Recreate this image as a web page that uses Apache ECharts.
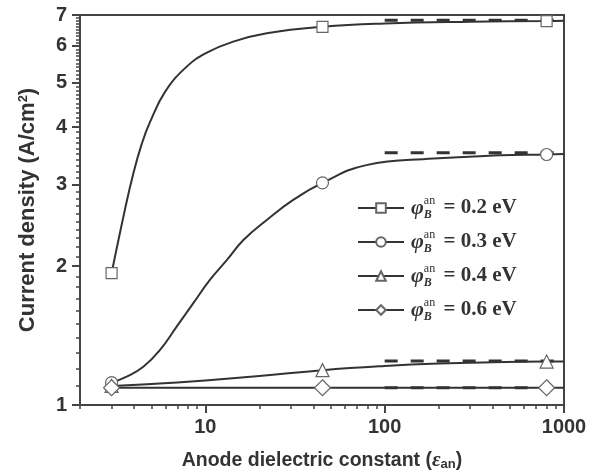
<!DOCTYPE html>
<html>
<head>
<meta charset="utf-8">
<script src="https://cdn.jsdelivr.net/npm/echarts@6/dist/echarts.min.js"></script>
<style>
  html, body { margin: 0; padding: 0; background: #fff; }
  #chart { width: 599px; height: 476px; }
</style>
</head>
<body>
<div id="chart"></div>
<script>
// Current density vs. anode dielectric constant for several anode barrier heights.

// Barrier heights (legend entries)
const barrierLabels = ['0.2 eV', '0.3 eV', '0.4 eV', '0.6 eV'];

// Smooth model curves (dielectric constant, current density A/cm^2)
const eps02 = [3, 3.56, 3.97, 4.42, 4.91, 5.96, 7.87, 10.2, 14.3, 22, 45, 100, 300, 800, 1000];
const j02   = [1.93, 2.65, 3.18, 3.68, 4.10, 4.77, 5.41, 5.80, 6.13, 6.39, 6.60, 6.71, 6.77, 6.79, 6.80];

const eps03 = [3, 3.64, 4.51, 5.59, 6.92, 8.57, 10.6, 13.2, 16.3, 22, 30.9, 45, 79, 187, 440, 800, 1000];
const j03   = [1.118, 1.152, 1.21, 1.316, 1.478, 1.662, 1.866, 2.062, 2.278, 2.518, 2.782, 3.03, 3.31, 3.42, 3.475, 3.49, 3.50];

const eps04 = [3, 5, 10, 20, 45, 100, 200, 400, 800, 1000];
const j04   = [1.10, 1.11, 1.13, 1.155, 1.19, 1.215, 1.23, 1.238, 1.242, 1.243];

const eps06 = [3, 45, 800, 1000];
const j06   = [1.09, 1.09, 1.09, 1.09];

// Marked materials
const markerEps = [3, 45, 800];
const mark02 = [1.93, 6.60, 6.79];
const mark03 = [1.118, 3.03, 3.49];
const mark04 = [1.10, 1.19, 1.242];
const mark06 = [1.09, 1.09, 1.09];

// High-permittivity limits (dashed)
const limitEps = [100, 1000];
const limit02 = 6.82;
const limit03 = 3.52;
const limit04 = 1.245;
const limit06 = 1.09;

// Axis ticks
const xMajorTicks = [10, 100, 1000];
const yMajorTicks = [1, 2, 3, 4, 5, 6, 7];

// minor ticks: every unit step inside each decade on x, every 0.1 on y
const xMinorTicks = [];
[1, 10, 100].forEach(d => { for (let k = 2; k <= 9; k++) if (k * d >= 2) xMinorTicks.push(k * d); });
const yMinorTicks = [];
for (let i = 1; i < 7; i++) for (let k = 1; k <= 9; k++) yMinorTicks.push(+(i + k / 10).toFixed(1));

const pairs = (xs, ys) => xs.map((x, i) => [x, ys[i]]);

const ink = '#333';
const markBorder = '#666';
const sansBold = { fontFamily: 'Liberation Sans', fontWeight: 'bold', color: ink };

const styles = [
  { name: barrierLabels[0], eps: eps02, j: j02, m: mark02, lim: limit02, symbol: 'rect', size: 11 },
  { name: barrierLabels[1], eps: eps03, j: j03, m: mark03, lim: limit03, symbol: 'circle', size: 12 },
  { name: barrierLabels[2], eps: eps04, j: j04, m: mark04, lim: limit04, symbol: 'triangle', size: 13 },
  { name: barrierLabels[3], eps: eps06, j: j06, m: mark06, lim: limit06, symbol: 'diamond', size: 16 }
];

const series = [];
// dashed limits underneath
styles.forEach(s => {
  series.push({
    type: 'line', name: 'limit ' + s.name, silent: true,
    data: pairs(limitEps, [s.lim, s.lim]),
    showSymbol: false, symbol: 'none',
    lineStyle: { color: ink, width: 3, type: [13, 13] },
    z: 1
  });
});
// curves (these carry the legend icon)
styles.forEach(s => {
  series.push({
    type: 'line', name: s.name,
    data: pairs(s.eps, s.j),
    smooth: 0.45,
    showSymbol: false, symbol: s.symbol,
    lineStyle: { color: ink, width: 2 },
    itemStyle: { color: '#fff', borderColor: markBorder, borderWidth: 1.2 },
    z: 2
  });
});
// markers
styles.forEach(s => {
  series.push({
    type: 'scatter', name: s.name,
    data: pairs(markerEps, s.m),
    symbol: s.symbol, symbolSize: s.size,
    itemStyle: { color: '#fff', borderColor: markBorder, borderWidth: 1.2, opacity: 1 },
    z: 3
  });
});

const chart = echarts.init(document.getElementById('chart'), null, { renderer: 'canvas' });

const xBase = { type: 'log', logBase: 10, min: 2, max: 1000, gridIndex: 0, splitLine: { show: false } };
const yBase = { type: 'log', logBase: 10, min: 1, max: 7, gridIndex: 0, splitLine: { show: false } };
const plain = v => String(v);

chart.setOption({
  animation: false,
  backgroundColor: '#fff',
  grid: { left: 80, right: 35, top: 15, bottom: 71, show: true, borderColor: '#444', borderWidth: 2, backgroundColor: 'transparent' },
  xAxis: [
    Object.assign({}, xBase, {
      position: 'bottom',
      axisLine: { show: true, lineStyle: { color: '#444', width: 2 } },
      axisTick: { show: true, inside: false, length: 8, customValues: xMajorTicks, lineStyle: { color: '#444', width: 2 } },
      axisLabel: Object.assign({ customValues: xMajorTicks, formatter: plain, fontSize: 20, margin: 12 }, sansBold),
      name: 'Anode dielectric constant ({eps|ε}{sub|an})',
      nameLocation: 'middle', nameGap: 45,
      nameTextStyle: Object.assign({ fontSize: 19.5,
        rich: {
          eps: { fontFamily: 'Liberation Serif', fontStyle: 'italic', fontSize: 21, color: ink, verticalAlign: 'middle' },
          sub: { fontFamily: 'Liberation Sans', fontWeight: 'bold', fontSize: 13, color: ink, verticalAlign: 'bottom', lineHeight: 13 }
        } }, sansBold)
    }),
    Object.assign({}, xBase, {
      position: 'bottom',
      axisLine: { show: false },
      axisTick: { show: true, inside: false, length: 4, customValues: xMinorTicks, lineStyle: { color: '#444', width: 1.5 } },
      axisLabel: { show: false }
    })
  ],
  yAxis: [
    Object.assign({}, yBase, {
      position: 'left',
      axisLine: { show: true, lineStyle: { color: '#444', width: 2 } },
      axisTick: { show: true, inside: false, length: 8, customValues: yMajorTicks, lineStyle: { color: '#444', width: 2 } },
      axisLabel: Object.assign({ customValues: yMajorTicks, formatter: plain, fontSize: 20, margin: 13 }, sansBold),
      name: 'Current density (A/cm{sup|2})',
      nameLocation: 'middle', nameGap: 41,
      nameTextStyle: Object.assign({ fontSize: 22,
        rich: {
          sup: { fontFamily: 'Liberation Sans', fontWeight: 'bold', fontSize: 13, color: ink, verticalAlign: 'top', lineHeight: 13 }
        } }, sansBold)
    }),
    Object.assign({}, yBase, {
      position: 'left',
      axisLine: { show: false },
      axisTick: { show: true, inside: false, length: 4, customValues: yMinorTicks, lineStyle: { color: '#444', width: 1.5 } },
      axisLabel: { show: false }
    })
  ],
  legend: {
    orient: 'vertical', left: 352, top: 190,
    itemWidth: 46, itemHeight: 12, itemGap: 8,
    data: barrierLabels,
    selectedMode: false,
    formatter: name => '{phi|φ}{sub|B}{sup|an}{val| = ' + name + '}',
    textStyle: {
      color: ink, padding: [0, 0, 0, 2],
      rich: {
        phi: { fontFamily: 'Liberation Serif', fontStyle: 'italic', fontWeight: 'bold', fontSize: 22, lineHeight: 26, color: ink },
        sub: { fontFamily: 'Liberation Serif', fontStyle: 'italic', fontWeight: 'bold', fontSize: 12, lineHeight: 12, verticalAlign: 'bottom', color: ink },
        sup: { fontFamily: 'Liberation Serif', fontSize: 12, lineHeight: 12, verticalAlign: 'top', padding: [0, 0, 0, -8], color: ink },
        val: { fontFamily: 'Liberation Serif', fontWeight: 'bold', fontSize: 21, lineHeight: 26, color: ink, padding: [0, 0, 0, 3] }
      }
    }
  },
  series: series
});
</script>
</body>
</html>
